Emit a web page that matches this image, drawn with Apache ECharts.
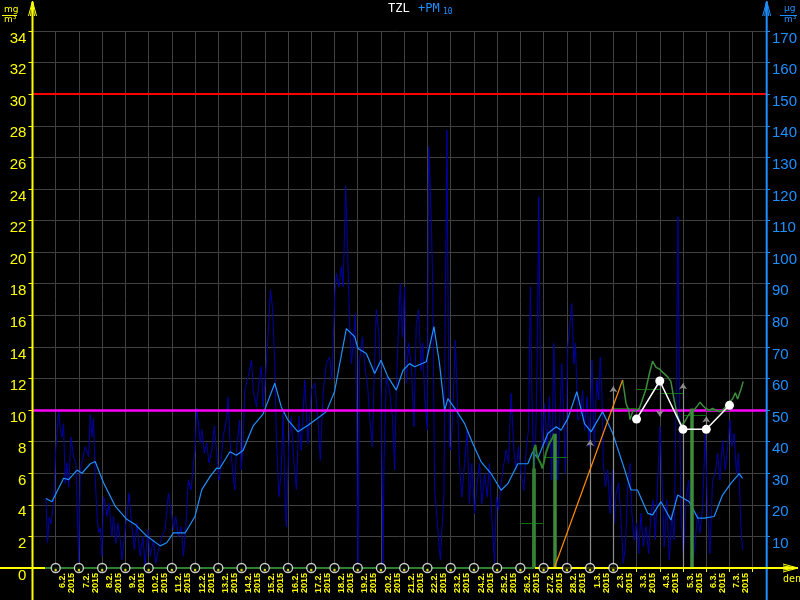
<!DOCTYPE html>
<html><head><meta charset="utf-8">
<script src="https://cdn.jsdelivr.net/npm/echarts@6/dist/echarts.min.js"></script>
<style>html,body{margin:0;padding:0;background:#000;}#c{width:800px;height:600px;}</style>
</head><body><div id="c"></div>
<script>
// ---- tick labels ----
const dayLabels = ['5.2.','6.2.','7.2.','8.2.','9.2.','10.2.','11.2.','12.2.','13.2.','14.2.','15.2.','16.2.','17.2.','18.2.','19.2.','20.2.','21.2.','22.2.','23.2.','24.2.','25.2.','26.2.','27.2.','28.2.','1.3.','2.3.','3.3.','4.3.','5.3.','6.3.','7.3.','8.3.'];
const yearLabel = '2015';
const labelDays = [1.5,2.5,3.5,4.5,5.5,6.5,7.5,8.5,9.5,10.5,11.5,12.5,13.5,14.5,15.5,16.5,17.5,18.5,19.5,20.5,21.5,22.5,23.5,24.5,25.5,26.5,27.5,28.5,29.5,30.5];
const tickDays = [0,1,2,3,4,5,6,7,8,9,10,11,12,13,14,15,16,17,18,19,20,21,22,23,24,25,26,27,28,29,30,31];
const markerDays = [1,2,3,4,5,6,7,8,9,10,11,12,13,14,15,16,17,18,19,20,21,22,23,24,25];

// ---- limits ----
const limitPM10 = 50;   // µg/m3 (right axis)
const limitHigh = 150;  // µg/m3 (right axis)

// ---- PM10 hourly values [day since 5.2., µg/m3] ----
const pm10Hourly = [
[0.58,22],[0.65,8],[0.72,16],[0.8,14],[0.9,20],[1.0,37],[1.13,50],[1.2,43.6],[1.27,41.5],[1.34,45.7],[1.41,26.8],[1.48,33.2],[1.56,25.7],[1.66,41.5],[1.77,35.2],[1.87,33.2],[1.99,2],[2.06,31],[2.27,38.4],[2.42,35.2],[2.49,48.6],[2.56,41.5],[2.63,47.5],[2.7,29],[2.78,16.3],[2.85,11.1],[2.92,12.7],[2.99,3.7],[3.06,22.6],[3.13,20.5],[3.2,16.3],[3.3,20.5],[3.42,10],[3.49,16.3],[3.59,7.8],[3.68,14.2],[3.78,9],[3.85,2.6],[3.99,12.1],[4.06,16.3],[4.16,23.6],[4.28,13.1],[4.39,5.8],[4.49,14.2],[4.64,3.7],[4.75,10],[4.85,1],[4.97,12.1],[5.07,3.7],[5.21,9],[5.31,1.5],[5.43,5.8],[5.57,10],[5.71,12.1],[5.85,23.6],[5.97,18.4],[6.07,12.1],[6.17,16.3],[6.28,10],[6.4,13.1],[6.5,3.7],[6.6,13.1],[6.71,27.8],[6.83,24.7],[6.93,33.2],[7.0,37.4],[7.07,50.6],[7.14,45.9],[7.22,39.6],[7.29,43.8],[7.4,36.3],[7.5,39.6],[7.6,33.2],[7.72,37.4],[7.83,45],[7.93,36.3],[8.03,27.8],
[8.06,28.9],[8.21,41.7],[8.35,47],[8.42,54],[8.5,40.6],[8.64,28.9],[8.71,24.7],[8.78,37.3],[8.92,46.8],[8.99,31],[9.07,40.6],[9.14,56.3],[9.28,60.5],[9.43,65.8],[9.5,56.3],[9.64,51],[9.75,58.5],[9.85,63.7],[9.93,51],[10.07,64.7],[10.18,78.5],[10.24,88],[10.33,82.7],[10.43,64.7],[10.5,40.6],[10.61,22.6],[10.71,31],[10.79,49],[10.89,17.3],[10.93,13],[11.03,38.4],[11.14,48],[11.25,33.3],[11.36,24.9],[11.47,48],[11.57,37.3],[11.72,59.5],[11.86,39.4],[12.0,56.3],[12.15,58.5],[12.29,46.8],[12.39,34.1],[12.51,55.3],[12.65,64.7],[12.79,66.8],[12.89,59.5],[13.01,85.9],[13.08,93.3],[13.19,89],[13.3,95.4],[13.37,89],[13.48,120.9],[13.54,107],[13.65,77.5],[13.73,64.7],[13.8,71],[13.9,80.6],[13.97,36.3],[14.01,0],[14.08,65.8],[14.2,73.2],[14.3,64.7],[14.44,56.3],[14.51,48],[14.63,38.4],[14.7,58.5],[14.8,81.7],[14.91,74.3],[15.01,55.3],[15.09,0],[15.13,33.2],[15.23,60.5],[15.37,56.3],[15.49,48],[15.59,31],[15.66,56.3],[15.77,79.5],[15.83,90],[15.92,73.2],[16.02,89],
[16.09,58.5],[16.19,71.1],[16.3,64.7],[16.42,44.7],[16.52,77.4],[16.62,81.7],[16.73,62.6],[16.8,71.1],[16.88,54.2],[17.0,43.6],[17.05,133.4],[17.11,122.9],[17.16,112.3],[17.23,88.1],[17.31,24.6],[17.41,16.2],[17.49,7.8],[17.56,2.5],[17.62,12],[17.71,22.5],[17.76,75.4],[17.84,138.6],[17.88,91.2],[17.95,38.4],[18.02,37.4],[18.09,49],[18.2,72.2],[18.28,54.2],[18.38,33.1],[18.48,22.5],[18.6,33.1],[18.71,43.6],[18.81,20.4],[18.91,33.1],[19.03,17.3],[19.14,26.8],[19.24,33.1],[19.34,20.4],[19.46,29.9],[19.57,22.5],[19.67,33.1],[19.77,16.2],[19.89,1.5],[19.97,22.5],[20.06,18.3],[20.17,26.8],[20.29,33.1],[20.39,37.4],[20.49,33.1],[20.6,55.3],[20.72,37.4],[20.82,31],[20.92,38.4],[21.03,29.9],[21.15,24.6],[21.25,37.4],[21.35,43.6],[21.43,89],[21.5,54.2],[21.58,27.8],[21.65,37.4],[21.72,64.7],[21.79,117.5],[21.86,64.7],[21.94,38.4],[22.04,52.1],[22.15,38.4],[22.25,54.2],[22.35,27.8],[22.44,71.1],[22.54,41.5],[22.61,27.8],[22.7,47.9],[22.78,64.7],[22.87,46.8],[22.94,29.9],[23.04,70],[23.14,77.4],[23.21,83.7],[23.3,64.7],[23.37,71.1],[23.47,46.8],[23.58,47.9],[23.68,56.3],[23.76,43.6],[23.87,54.2],
[23.97,38.4],[24.08,65.8],[24.18,38.4],[24.29,59.5],[24.37,53.2],[24.44,66.8],[24.51,55.3],[24.57,33.1],[24.66,25.7],[24.76,31],[24.86,17.3],[24.97,31],[25.04,14.1],[25.12,23.6],[25.23,26.8],[25.33,15.2],[25.43,1.5],[25.52,6.8],[25.62,25.7],[25.72,33.1],[25.8,17.3],[25.9,8.9],[26.0,14.1],[26.09,4.6],[26.19,17.3],[26.29,6.8],[26.41,13.1],[26.52,4.6],[26.62,17.3],[26.72,21.5],[26.81,8.9],[26.91,27.8],[27.01,44.7],[27.09,29.9],[27.19,6.8],[27.3,21.5],[27.41,2.5],[27.52,17.3],[27.62,8.9],[27.72,63.7],[27.78,111.2],[27.84,59.5],[27.91,17.3],[28.01,4.6],[28.13,21.5],[28.24,27.8],[28.34,15.2],[28.44,2.5],[28.53,8.9],[28.63,17.3],[28.73,11],[28.84,19.4],[28.96,42.6],[29.06,17.3],[29.16,4.6],[29.27,27.8],[29.39,29.9],[29.49,36.3],[29.59,27.8],[29.7,40.5],[29.82,31],[29.92,38.4],[30.02,46.8],[30.1,38.4],[30.2,42.6],[30.3,29.9],[30.39,36.3],[30.49,13.1],[30.56,5.7]
];

// ---- PM10 running 24h average [day, µg/m3] ----
const pm10Avg = [
[0.58,22],[0.84,21],[1.34,28.4],[1.56,28],[1.92,31],[2.13,30],[2.49,33],[2.7,33.7],[3.06,27],[3.56,19.6],[4.06,15.4],[4.42,13.8],[4.92,10.1],[5.5,7],[5.78,8],[6.07,11.1],[6.57,11.1],[7.0,16.4],[7.29,24.8],[7.65,29],[7.93,31.6],[8.06,31.5],[8.5,36.8],[8.78,35.7],[9.07,37.3],[9.5,45],[9.93,48.8],[10.43,58.5],[10.71,51],[11.0,46.8],[11.43,43.1],[11.86,45.2],[12.36,47.9],[12.65,49.5],[13.0,55.8],[13.51,75.8],[13.87,73.2],[14.01,69.5],[14.37,67.9],[14.73,61.6],[15.0,65.8],[15.3,60.5],[15.66,56.3],[15.95,62.6],[16.23,64.7],[16.45,63.7],[16.95,65.3],[17.28,76.4],[17.52,64.7],[17.74,49.9],[17.88,53.6],[18.24,49.9],[18.6,45.7],[18.95,39.4],[19.31,33.6],[19.74,29.9],[20.17,24.6],[20.46,26.7],[20.89,33],[21.32,33],[21.53,36.8],[21.75,34.7],[22.18,42.6],[22.54,44.7],[22.75,43.6],[23.04,47.3],[23.43,55.8],[23.76,45.7],[24.04,43.1],[24.54,49.5],[24.97,42.7],[25.4,33.1],[25.76,24.7],[26.04,24.7],[26.48,17.3],[26.69,16.8],[27.05,21],[27.48,15.2],[27.77,23.1],[28.27,21],[28.63,15.8],[28.92,15.8],[29.34,16.3],[29.7,23.1],[30.06,26.8],[30.42,29.9],[30.56,28.4]
];

// ---- TZL [day, mg/m3] ----
const tzlPartA = [[0.55,0],[21.55,0],[21.58,7.47],[21.65,7.8],[21.72,7.05],[21.88,6.6],[21.95,6.3],[22.1,7.3],[22.25,7.9],[22.4,8.3],[22.45,8.5]];
const tzlPartB = [[25.4,11.9],[25.55,10.4],[25.66,10],[25.72,9.4],[25.83,9.9],[25.98,10],[26.12,10.1],[26.4,11.3],[26.55,12.3],[26.69,13.1],[26.84,12.7],[26.98,12.6],[27.12,12.4],[27.34,12.1],[27.48,11.8],[27.62,10.6],[27.77,9.6],[27.91,9.05],[28.05,9.2],[28.2,9.6],[28.34,9.9],[28.48,10],[28.63,10.3],[28.73,10.5],[28.84,10.3],[28.98,10.1],[29.13,10],[29.27,10.1],[29.42,10],[29.56,9.9],[29.7,10],[29.84,10.2],[29.99,10.5],[30.13,10.7],[30.25,11.1],[30.35,10.7],[30.49,11.3],[30.59,11.8]];
const tzlGapFill = [[22.46,0],[25.4,11.9]];
const tzlDailyMean = [[21,22,2.83],[22,23,7.0],[25,26,10.1],[26,27,11.3],[27,28,11.05],[28,29,9.7],[29,30,10.0]];
const tzlBars = [[21.58,6.3],[22.46,8.5],[28.38,10.1]];
const tzlDaily = [[26,9.43],[27,11.84],[28,8.78],[29,8.78],[30,10.3]];
const tzlRanges = [[24,0,8.1],[25,0,11.5],[27,11.84,9.6],[28,0,11.7],[29,8.78,9.6]];

const YEL = '#ffff00', BLU = '#1e90ff', GRID = '#404040';
const chart = echarts.init(document.getElementById('c'));

const arrowUp = (x, y, c) => ([
  {type:'polyline', shape:{points:[[x-4,y+15],[x,y],[x+4,y+15]]}, style:{stroke:c, fill:null, lineWidth:1}, z:100},
  {type:'polyline', shape:{points:[[x-2,y+15],[x,y],[x+2,y+15]]}, style:{stroke:c, fill:null, lineWidth:1}, z:100}
]);

chart.setOption({
  backgroundColor: '#000',
  animation: false,
  grid: {left: 32.44, right: 33.3, top: 31, bottom: 32},
  xAxis: {
    type: 'value', min: 0, max: 31.57, interval: 1,
    axisLine: {show: false},
    axisTick: {show: true, length: 4, customValues: tickDays, lineStyle: {color: YEL}},
    splitLine: {show: true, lineStyle: {color: GRID, width: 1}},
    axisLabel: {
      customValues: labelDays, rotate: 90, color: YEL, fontSize: 9, fontWeight: 'bold',
      fontFamily: 'Liberation Sans', lineHeight: 9, margin: 5,
      formatter: v => dayLabels[Math.floor(v)] + '\n' + yearLabel
    }
  },
  yAxis: [{
    type: 'value', min: 0, max: 34, interval: 2, position: 'left',
    axisLine: {show: false},
    axisTick: {show: true, length: 4, lineStyle: {color: YEL}},
    axisLabel: {color: YEL, fontSize: 15, fontFamily: 'Liberation Sans', margin: 6, verticalAlign: 'top'},
    splitLine: {show: true, lineStyle: {color: GRID, width: 1}}
  }, {
    type: 'value', min: 0, max: 170, interval: 10, position: 'right',
    axisLine: {show: false},
    axisTick: {show: true, length: 4, lineStyle: {color: BLU}},
    axisLabel: {color: BLU, fontSize: 15, fontFamily: 'Liberation Sans', margin: 6, verticalAlign: 'top',
      formatter: v => v === 0 ? '' : String(v)},
    splitLine: {show: false}
  }],
  series: [
    {name: 'PM10', type: 'line', yAxisIndex: 1, data: pm10Hourly, showSymbol: false, z: 2,
      lineStyle: {color: '#0000a8', width: 1}},
    {name: 'PM10 avg', type: 'line', yAxisIndex: 1, data: pm10Avg, showSymbol: false, z: 3,
      lineStyle: {color: BLU, width: 1.2},
      markLine: {silent: true, symbol: 'none', label: {show: false}, z: 4,
        data: [
          {yAxis: limitPM10, lineStyle: {color: '#ff00ff', width: 2.5, type: 'solid'}},
          {yAxis: limitHigh, lineStyle: {color: '#ff0000', width: 2, type: 'solid'}}
        ]}},
    {name: 'daily mean', type: 'lines', coordinateSystem: 'cartesian2d', z: 5,
      data: tzlDailyMean.map(r => ({coords: [[r[0], r[2]], [r[1], r[2]]]})),
      lineStyle: {color: '#0a6e0a', width: 1, opacity: 1}},
    {name: 'bars', type: 'lines', coordinateSystem: 'cartesian2d', z: 5,
      data: tzlBars.map(r => ({coords: [[r[0], 0], [r[0], r[1]]]})),
      lineStyle: {color: '#3c8c3c', width: 3.5, opacity: 1}},
    {name: 'ranges', type: 'lines', coordinateSystem: 'cartesian2d', z: 5,
      symbol: ['none', 'arrow'], symbolSize: 6,
      data: tzlRanges.map(r => ({coords: [[r[0], r[1]], [r[0], r[2]]]})),
      lineStyle: {color: '#8c8c8c', width: 1.2, opacity: 1}},
    {name: 'TZL', type: 'line', data: tzlPartA, showSymbol: false, z: 6,
      lineStyle: {color: '#2f7f2f', width: 2}},
    {name: 'TZL2', type: 'line', data: tzlPartB, showSymbol: false, z: 6,
      lineStyle: {color: '#3c8c3c', width: 1.5}},
    {name: 'gap', type: 'line', data: tzlGapFill, showSymbol: false, z: 6,
      lineStyle: {color: '#ff8c00', width: 1.2}},
    {name: 'TZL daily', type: 'line', data: tzlDaily, symbol: 'circle', symbolSize: 9, z: 8,
      itemStyle: {color: '#ffffff'}, lineStyle: {color: '#ffffff', width: 1.5}},
    {name: 'markers', type: 'scatter', data: markerDays.map(d => [d, 0]), symbol: 'circle', symbolSize: 9, z: 9,
      itemStyle: {color: '#000', borderColor: '#ffffff', borderWidth: 1.3}},
    {name: 'markerDots', type: 'scatter', data: markerDays.map(d => [d, 0]), symbol: 'circle', symbolSize: 2.5, z: 10,
      symbolOffset: [0, 2], itemStyle: {color: YEL}}
  ],
  graphic: [
    // axis lines
    {type: 'line', shape: {x1: 32.5, y1: 2, x2: 32.5, y2: 600}, style: {stroke: YEL, lineWidth: 2}, z: 7},
    {type: 'line', shape: {x1: 766.7, y1: 2, x2: 766.7, y2: 600}, style: {stroke: BLU, lineWidth: 2}, z: 7},
    {type: 'line', shape: {x1: 0, y1: 568, x2: 45, y2: 568}, style: {stroke: YEL, lineWidth: 2}, z: 7},
    {type: 'line', shape: {x1: 535, y1: 568, x2: 798, y2: 568}, style: {stroke: YEL, lineWidth: 2}, z: 7},
    ...arrowUp(32.5, 1, YEL),
    ...arrowUp(766.7, 1, BLU),
    {type: 'polyline', shape: {points: [[783, 564], [798, 568], [783, 572]]}, style: {stroke: YEL, fill: null, lineWidth: 1}, z: 100},
    {type: 'polyline', shape: {points: [[783, 566], [798, 568], [783, 570]]}, style: {stroke: YEL, fill: null, lineWidth: 1}, z: 100},
    {type: 'text', left: 783, top: 574, style: {text: 'den', fill: YEL, font: '10px "DejaVu Sans Mono"'}, z: 100},
    // units
    {type: 'text', left: 4, top: 5, style: {text: 'mg', fill: YEL, font: '9px "DejaVu Sans"'}, z: 100},
    {type: 'line', shape: {x1: 2, y1: 15.5, x2: 17, y2: 15.5}, style: {stroke: YEL, lineWidth: 1}, z: 100},
    {type: 'text', left: 4, top: 15, style: {text: 'm³', fill: YEL, font: '9px "DejaVu Sans"'}, z: 100},
    {type: 'text', left: 784, top: 4, style: {text: 'μg', fill: BLU, font: '9px "DejaVu Sans"'}, z: 100},
    {type: 'line', shape: {x1: 780, y1: 15.5, x2: 797, y2: 15.5}, style: {stroke: BLU, lineWidth: 1}, z: 100},
    {type: 'text', left: 784, top: 15, style: {text: 'm³', fill: BLU, font: '9px "DejaVu Sans"'}, z: 100},
    // title
    {type: 'text', left: 388, top: 3, style: {text: 'TZL', fill: '#ffffff', font: '12px "DejaVu Sans Mono"'}, z: 100},
    {type: 'text', left: 418, top: 3, style: {text: '+PM', fill: BLU, font: '12px "DejaVu Sans Mono"'}, z: 100},
    {type: 'text', left: 443, top: 8, style: {text: '10', fill: BLU, font: '8px "DejaVu Sans Mono"'}, z: 100}
  ]
});
</script>
</body></html>
